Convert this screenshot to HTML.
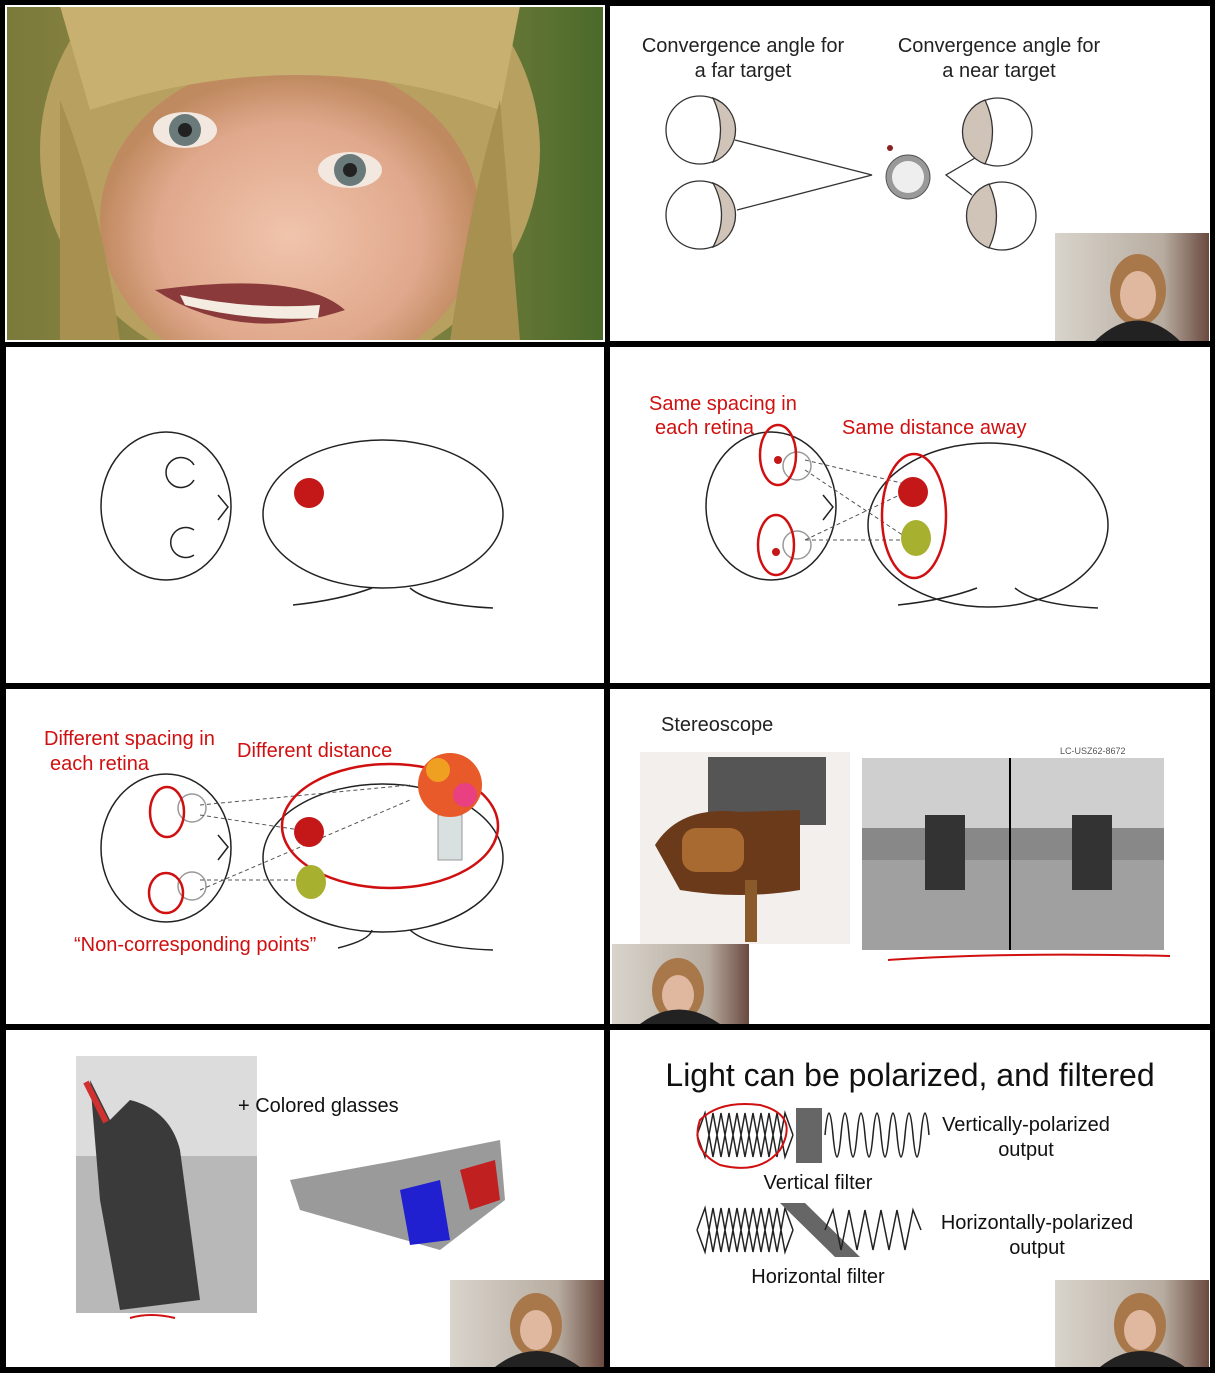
<!DOCTYPE html>
<html><head><style>html,body{margin:0;padding:0;background:#000}svg{display:block}text{font-family:"Liberation Sans",sans-serif}</style></head><body>
<svg width="1215" height="1373" viewBox="0 0 1215 1373" xmlns="http://www.w3.org/2000/svg">
<defs>
<radialGradient id="face" cx="0.5" cy="0.55" r="0.5"><stop offset="0" stop-color="#f0c4ac"/><stop offset="0.7" stop-color="#e0a88c"/><stop offset="1" stop-color="#c08a60"/></radialGradient>
<linearGradient id="bg1" x1="0" x2="1"><stop offset="0" stop-color="#7a7a3a"/><stop offset="0.5" stop-color="#a09050"/><stop offset="1" stop-color="#4a6a2a"/></linearGradient>
<linearGradient id="cam" x1="0" x2="1"><stop offset="0" stop-color="#d8d4cc"/><stop offset="0.7" stop-color="#b8aca0"/><stop offset="1" stop-color="#6a4a40"/></linearGradient>
<clipPath id="c1"><rect x="6" y="6" width="598" height="335"/></clipPath>
</defs>
<rect width="1215" height="1373" fill="#000"/>
<rect x="6" y="6" width="598" height="335" fill="url(#bg1)"/>
<rect x="610" y="6" width="600" height="335" fill="#fff"/>
<rect x="6" y="347" width="598" height="336" fill="#fff"/>
<rect x="610" y="347" width="600" height="336" fill="#fff"/>
<rect x="6" y="689" width="598" height="335" fill="#fff"/>
<rect x="610" y="689" width="600" height="335" fill="#fff"/>
<rect x="6" y="1030" width="598" height="337" fill="#fff"/>
<rect x="610" y="1030" width="600" height="337" fill="#fff"/>

<!-- panel 1 child -->
<g clip-path="url(#c1)">
<ellipse cx="290" cy="150" rx="250" ry="230" fill="#b8a060"/>
<ellipse cx="290" cy="220" rx="190" ry="160" fill="url(#face)"/>
<path d="M60 6 L520 6 L500 110 Q300 40 90 110 Z" fill="#c8b070"/>
<path d="M60 100 Q100 200 120 341 L60 341Z" fill="#a89050"/>
<path d="M500 100 Q470 200 450 341 L520 341Z" fill="#a89050"/>
<ellipse cx="185" cy="130" rx="32" ry="18" fill="#f2e8e0"/><circle cx="185" cy="130" r="16" fill="#6a7a7a"/><circle cx="185" cy="130" r="7" fill="#222"/>
<ellipse cx="350" cy="170" rx="32" ry="18" fill="#f2e8e0"/><circle cx="350" cy="170" r="16" fill="#6a7a7a"/><circle cx="350" cy="170" r="7" fill="#222"/>
<path d="M155 290 Q240 345 345 310 Q300 270 155 290Z" fill="#8a3a3a"/>
<path d="M180 295 Q250 310 320 305 L318 318 Q250 322 185 305Z" fill="#f4ece0"/>
</g>
<rect x="6" y="6" width="598" height="335" fill="none" stroke="#fff" stroke-width="2"/>

<!-- panel 2 -->
<g font-size="20" fill="#222" text-anchor="middle">
<text x="743" y="52">Convergence angle for</text><text x="743" y="77">a far target</text>
<text x="999" y="52">Convergence angle for</text><text x="999" y="77">a near target</text>
</g>
<g stroke="#333" stroke-width="1.3" fill="#fff">
<circle cx="700" cy="130" r="34"/><circle cx="700" cy="215" r="34"/>
<circle cx="998" cy="132" r="34"/><circle cx="1002" cy="216" r="34"/>
<path d="M713 98 A34 34 0 0 1 713 162 Q728 130 713 98Z" fill="#d0c4b8"/>
<path d="M713 183 A34 34 0 0 1 713 247 Q730 215 713 183Z" fill="#d0c4b8"/>
<path d="M985 100 A34 34 0 0 0 985 164 Q1000 132 985 100Z" fill="#d0c4b8"/>
<path d="M989 184 A34 34 0 0 0 989 248 Q1004 216 989 184Z" fill="#d0c4b8"/>
<path d="M735 140 L872 175 L737 210" fill="none"/>
<path d="M975 158 L946 175 L972 195" fill="none"/>
</g>
<circle cx="908" cy="177" r="22" fill="#999" stroke="#555"/><circle cx="908" cy="177" r="16" fill="#eee"/>
<circle cx="890" cy="148" r="3" fill="#8a2020"/>
<rect x="1055" y="233" width="154" height="108" fill="url(#cam)"/>
<ellipse cx="1138" cy="290" rx="28" ry="36" fill="#a8784a"/><ellipse cx="1138" cy="295" rx="18" ry="24" fill="#e0b8a0"/><path d="M1095 341 Q1138 300 1180 341Z" fill="#222"/>

<!-- panel 3 -->
<g stroke="#222" stroke-width="1.5" fill="none">
<ellipse cx="166" cy="506" rx="65" ry="74"/>
<ellipse cx="383" cy="514" rx="120" ry="74"/>
<path d="M194 465 A15 15 0 1 0 194 480"/><path d="M194 530 A15 15 0 1 0 194 555"/>
<path d="M218 495 L228 507 L218 520"/>
<path d="M293 605 Q340 600 372 588 M410 588 Q430 605 493 608"/>
</g>
<circle cx="309" cy="493" r="15" fill="#c41818"/>

<!-- panel 4 -->
<g font-size="20" fill="#d01010"><text x="649" y="410">Same spacing in</text><text x="655" y="434">each retina</text><text x="842" y="434">Same distance away</text></g>
<g stroke="#222" stroke-width="1.5" fill="none">
<ellipse cx="771" cy="506" rx="65" ry="74"/>
<ellipse cx="988" cy="525" rx="120" ry="82"/>
<circle cx="797" cy="466" r="14" stroke="#999"/><circle cx="797" cy="545" r="14" stroke="#999"/>
<path d="M823 495 L833 507 L823 520"/>
<path d="M898 605 Q945 600 977 588 M1015 588 Q1035 605 1098 608"/>
<path d="M805 460 L910 485 M805 470 L910 540 M805 540 L910 490 M805 540 L910 540" stroke="#555" stroke-dasharray="4 3" stroke-width="1"/>
</g>
<g stroke="#d01010" stroke-width="2.5" fill="none"><ellipse cx="778" cy="455" rx="18" ry="30"/><ellipse cx="776" cy="545" rx="18" ry="30"/><ellipse cx="914" cy="516" rx="32" ry="62"/></g>
<circle cx="913" cy="492" r="15" fill="#c41818"/><ellipse cx="916" cy="538" rx="15" ry="18" fill="#a8b030"/>
<circle cx="778" cy="460" r="4" fill="#c41818"/><circle cx="776" cy="552" r="4" fill="#c41818"/>

<!-- panel 5 -->
<g font-size="20" fill="#d01010"><text x="44" y="745">Different spacing in</text><text x="50" y="770">each retina</text><text x="237" y="757">Different distance</text><text x="74" y="951">“Non-corresponding points”</text></g>
<g stroke="#222" stroke-width="1.5" fill="none">
<ellipse cx="166" cy="848" rx="65" ry="74"/>
<ellipse cx="383" cy="858" rx="120" ry="74"/>
<circle cx="192" cy="808" r="14" stroke="#999"/><circle cx="192" cy="886" r="14" stroke="#999"/>
<path d="M218 835 L228 847 L218 860"/>
<path d="M338 948 Q370 940 372 930 M410 930 Q430 948 493 950"/>
<path d="M200 805 L410 785 M200 815 L300 830 M200 880 L300 880 M200 890 L410 800" stroke="#555" stroke-dasharray="4 3" stroke-width="1"/>
</g>
<g stroke="#d01010" stroke-width="2.5" fill="none"><ellipse cx="167" cy="812" rx="17" ry="25"/><ellipse cx="166" cy="893" rx="17" ry="20"/><ellipse cx="390" cy="826" rx="108" ry="62"/></g>
<circle cx="309" cy="832" r="15" fill="#c41818"/><ellipse cx="311" cy="882" rx="15" ry="17" fill="#a8b030"/>
<rect x="438" y="815" width="24" height="45" fill="#d8e0e0" stroke="#999"/>
<circle cx="450" cy="785" r="32" fill="#e85a2a"/><circle cx="438" cy="770" r="12" fill="#f0a020"/><circle cx="465" cy="795" r="12" fill="#e84080"/>

<!-- panel 6 -->
<text x="661" y="731" font-size="20" fill="#222">Stereoscope</text>
<rect x="640" y="752" width="210" height="192" fill="#f2efec"/>
<rect x="708" y="757" width="118" height="68" fill="#555"/>
<path d="M655 845 Q680 805 740 812 L800 810 L800 890 Q740 900 680 890Z" fill="#6a3a1a"/>
<rect x="682" y="828" width="62" height="44" rx="14" fill="#a86a30"/>
<rect x="745" y="880" width="12" height="62" fill="#8a5a2a"/>
<rect x="862" y="758" width="302" height="192" fill="#888"/>
<rect x="862" y="860" width="302" height="90" fill="#a0a0a0"/>
<rect x="862" y="758" width="302" height="70" fill="#cfcfcf"/>
<line x1="1010" y1="758" x2="1010" y2="950" stroke="#000" stroke-width="2"/>
<rect x="925" y="815" width="40" height="75" fill="#333"/><rect x="1072" y="815" width="40" height="75" fill="#333"/>
<text x="1060" y="754" font-size="9" fill="#555">LC-USZ62-8672</text>
<path d="M888 960 Q1000 952 1170 956" stroke="#d01010" stroke-width="2" fill="none"/>
<rect x="612" y="944" width="137" height="80" fill="url(#cam)"/>
<ellipse cx="678" cy="990" rx="26" ry="32" fill="#a8784a"/><ellipse cx="678" cy="995" rx="16" ry="20" fill="#e0b8a0"/><path d="M640 1024 Q678 995 720 1024Z" fill="#222"/>

<!-- panel 7 -->
<rect x="76" y="1056" width="181" height="257" fill="#b8b8b8"/>
<rect x="76" y="1056" width="181" height="100" fill="#dcdcdc"/>
<path d="M90 1080 L110 1120 L130 1100 Q170 1110 180 1150 L200 1300 L120 1310 L100 1200Z" fill="#3a3a3a"/>
<path d="M86 1082 L106 1122" stroke="#d03030" stroke-width="6"/>
<path d="M130 1318 Q150 1312 175 1318" stroke="#d01010" stroke-width="2" fill="none"/>
<text x="238" y="1112" font-size="20" fill="#111">+ Colored glasses</text>
<path d="M290 1180 L400 1160 L500 1140 L505 1200 L440 1250 L300 1210Z" fill="#9a9a9a"/>
<path d="M400 1190 L440 1180 L450 1240 L410 1245Z" fill="#2020d0"/>
<path d="M460 1170 L495 1160 L500 1200 L470 1210Z" fill="#c02020"/>
<rect x="450" y="1280" width="154" height="87" fill="url(#cam)"/>
<ellipse cx="536" cy="1325" rx="26" ry="32" fill="#a8784a"/><ellipse cx="536" cy="1330" rx="16" ry="20" fill="#e0b8a0"/><path d="M495 1367 Q536 1335 580 1367Z" fill="#222"/>

<!-- panel 8 -->
<text x="910" y="1086" font-size="32" fill="#111" text-anchor="middle">Light can be polarized, and filtered</text>
<path d="M697 1135 l8 -22 l8 44 l8 -44 l8 44 l8 -44 l8 44 l8 -44 l8 44 l8 -44 l8 44 l8 -44 l8 22 M697 1135 l8 22 l8 -44 l8 44 l8 -44 l8 44 l8 -44 l8 44 l8 -44 l8 44 l8 -44 l8 44 l8 -22" stroke="#222" stroke-width="1.5" fill="none"/>
<rect x="796" y="1108" width="26" height="55" fill="#666"/>
<path d="M825 1135 q4 -44 8 0 q4 44 8 0 q4 -44 8 0 q4 44 8 0 q4 -44 8 0 q4 44 8 0 q4 -44 8 0 q4 44 8 0 q4 -44 8 0 q4 44 8 0 q4 -44 8 0 q4 44 8 0 q4 -44 8 0" stroke="#222" stroke-width="1.5" fill="none"/>
<path d="M700 1120 Q720 1100 760 1105 Q800 1115 780 1150 Q760 1175 720 1165 Q690 1150 700 1120Z" stroke="#d01010" stroke-width="2" fill="none"/>
<g font-size="20" fill="#111" text-anchor="middle"><text x="1026" y="1131">Vertically-polarized</text><text x="1026" y="1156">output</text><text x="818" y="1189">Vertical filter</text><text x="1037" y="1229">Horizontally-polarized</text><text x="1037" y="1254">output</text><text x="818" y="1283">Horizontal filter</text></g>
<path d="M697 1230 l8 -22 l8 44 l8 -44 l8 44 l8 -44 l8 44 l8 -44 l8 44 l8 -44 l8 44 l8 -44 l8 22 M697 1230 l8 22 l8 -44 l8 44 l8 -44 l8 44 l8 -44 l8 44 l8 -44 l8 44 l8 -44 l8 44 l8 -22" stroke="#222" stroke-width="1.5" fill="none"/>
<path d="M780 1203 L805 1203 L860 1257 L835 1257Z" fill="#666"/>
<path d="M825 1230 l8 -20 l8 40 l8 -40 l8 40 l8 -40 l8 40 l8 -40 l8 40 l8 -40 l8 40 l8 -40 l8 20" stroke="#222" stroke-width="1.5" fill="none"/>
<rect x="1055" y="1280" width="154" height="87" fill="url(#cam)"/>
<ellipse cx="1140" cy="1325" rx="26" ry="32" fill="#a8784a"/><ellipse cx="1140" cy="1330" rx="16" ry="20" fill="#e0b8a0"/><path d="M1100 1367 Q1140 1335 1185 1367Z" fill="#222"/>
</svg>
</body></html>
